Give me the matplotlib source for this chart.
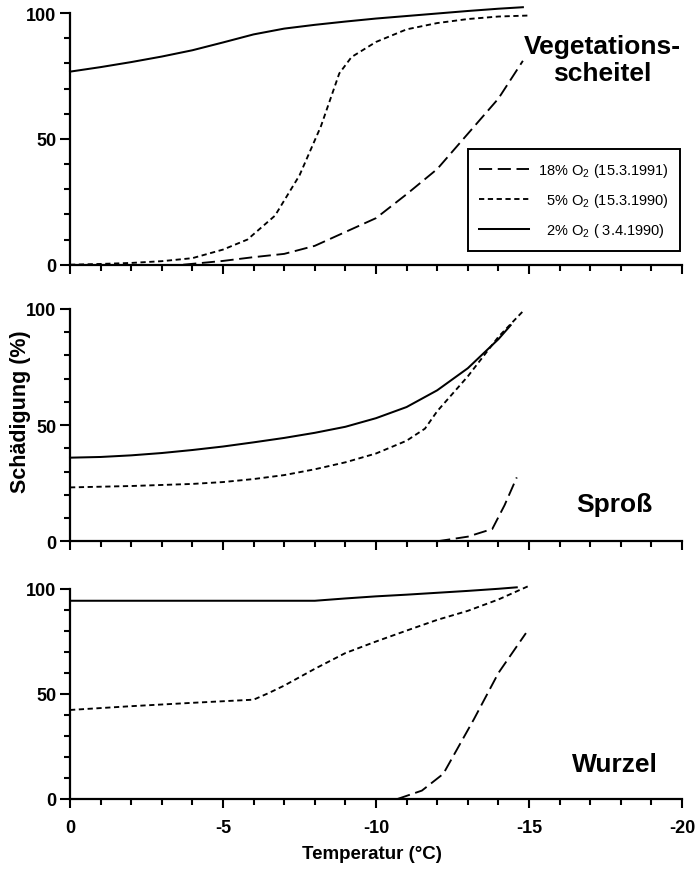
import numpy as np
import matplotlib
matplotlib.use("Agg")
import matplotlib.pyplot as plt
from matplotlib import rcParams

# ── global style ──────────────────────────────────────────
rcParams.update({
    "font.family": ["Liberation Sans", "DejaVu Sans"],
    "font.weight": "bold",
    "mathtext.default": "regular",
    "axes.unicode_minus": False,
    "axes.linewidth": 1.6,
    "axes.spines.top": False,
    "axes.spines.right": False,
    "xtick.direction": "out",
    "ytick.direction": "out",
    "xtick.major.size": 6.5,
    "xtick.minor.size": 4.3,
    "ytick.major.size": 7,
    "ytick.minor.size": 4,
    "xtick.major.width": 1.5,
    "xtick.minor.width": 1.5,
    "ytick.major.width": 1.5,
    "ytick.minor.width": 1.5,
})

LW = 1.35
LONG = (0, (7, 3))
SHORT = (0, (2.8, 1.9))

# ── data: temperature (°C) and damage (%) ─────────────────
# Vegetationsscheitel
veg_t_18 = [-3.7, -5, -6, -7, -8, -9, -10, -11, -12, -13, -14, -14.8]
veg_d_18 = [0, 1.5, 3, 4.3, 7.5, 13, 18.5, 28, 38, 52, 66, 81]
veg_t_5 = [0, -1, -2, -3, -4, -5, -5.8, -6.7, -7.5, -8.2, -8.8, -9.2,
           -10, -11, -12, -13, -14, -15]
veg_d_5 = [0, 0.3, 0.7, 1.4, 2.6, 6, 10, 19.5, 35.5, 55, 76, 82.5,
           88.5, 93.5, 96, 97.6, 98.6, 99]
veg_t_2 = [0, -1, -2, -3, -4, -5, -6, -7, -8, -9, -10, -11, -12, -13, -14, -14.8]
veg_d_2 = [76.7, 78.5, 80.5, 82.7, 85.2, 88.3, 91.5, 93.8, 95.3, 96.6,
           97.8, 98.8, 99.8, 100.8, 101.7, 102.3]

# Spross
spr_t_18 = [-12, -13, -13.8, -14.2, -14.6]
spr_d_18 = [0, 2, 5.3, 15.5, 27.5]
spr_t_5 = [0, -2, -4, -5, -6, -7, -8, -9, -10, -11, -11.6, -12, -13, -14, -14.8]
spr_d_5 = [23.2, 23.8, 24.7, 25.5, 26.8, 28.5, 31, 34, 37.8, 43.3, 48.5,
           56, 71, 88, 99]
spr_t_2 = [0, -1, -2, -3, -4, -5, -6, -7, -8, -9, -10, -11, -12, -13, -14, -14.4]
spr_d_2 = [36, 36.3, 37, 38, 39.3, 40.8, 42.6, 44.5, 46.7, 49.3, 53,
           57.8, 65, 74.5, 87, 93]

# Wurzel
wur_t_18 = [-10.7, -11.5, -12.2, -13.2, -14, -14.9]
wur_d_18 = [0, 4, 12, 38, 60, 79]
wur_t_5 = [0, -2, -4, -6, -6.5, -7, -8, -9, -10, -11, -12, -13, -14, -15]
wur_d_5 = [42.4, 44.2, 45.8, 47.3, 50.5, 54, 62, 69.5, 75, 80.2, 85.3,
           89.6, 95, 101.5]
wur_t_2 = [0, -8, -9, -10, -11, -12, -13, -14, -14.6]
wur_d_2 = [94.4, 94.4, 95.5, 96.5, 97.3, 98.2, 99.1, 100.1, 100.8]

legend_labels = ["18% O$_2$ (15.3.1991)",
                 "  5% O$_2$ (15.3.1990)",
                 "  2% O$_2$ ( 3.4.1990)"]
x_ticks = [0, -5, -10, -15, -20]
x_tick_labels = ["0", "-5", "-10", "-15", "-20"]
y_ticks = [0, 50, 100]
y_tick_labels = ["0", "50", "100"]

panels = [
    ("Vegetations-\nscheitel", veg_t_18, veg_d_18, veg_t_5, veg_d_5, veg_t_2, veg_d_2),
    ("Sproß", spr_t_18, spr_d_18, spr_t_5, spr_d_5, spr_t_2, spr_d_2),
    ("Wurzel", wur_t_18, wur_d_18, wur_t_5, wur_d_5, wur_t_2, wur_d_2),
]

W, H = 697, 870
# axes boxes in pixels: left, top (y of 100), bottom (y of 0)
boxes = [(70, 14, 265.7), (70, 310, 542.3), (70, 590, 800)]
label_pos = [(-17.4, 81.5), (-17.8, 16), (-17.8, 16.7)]

fig = plt.figure(figsize=(W / 100, H / 100), dpi=100)

for i, (name, t18, d18, t5, d5, t2, d2) in enumerate(panels):
    left, top, bot = boxes[i]
    ax = fig.add_axes([left / W, (H - bot) / H, 612 / W, (bot - top) / H])
    l18, = ax.plot(t18, d18, color="black", lw=LW, linestyle=LONG, clip_on=False)
    l5, = ax.plot(t5, d5, color="black", lw=LW, linestyle=SHORT, clip_on=False)
    l2, = ax.plot(t2, d2, color="black", lw=LW + 0.1, clip_on=False)

    ax.set_xlim(0, -20)
    ax.set_ylim(0, 100)
    ax.set_xticks(x_ticks)
    ax.set_xticks(np.arange(0, -21, -1), minor=True)
    ax.set_yticks(y_ticks)
    ax.set_yticks(np.arange(0, 101, 10), minor=True)
    ax.set_yticklabels(y_tick_labels, fontsize=13, fontweight="bold")
    ax.tick_params(axis="y", pad=3)
    if i == 2:
        ax.set_xticklabels(x_tick_labels, fontsize=13, fontweight="bold")
        ax.tick_params(axis="x", pad=8)
    else:
        ax.set_xticklabels([])

    tx, ty = label_pos[i]
    ax.text(tx, ty, name, ha="center", va="center", fontsize=19,
            fontweight="bold", linespacing=1.15)

    if i == 0:
        leg = ax.legend([l18, l5, l2], legend_labels, loc="lower right",
                        bbox_to_anchor=(0.997, 0.054), borderaxespad=0,
                        fancybox=False, edgecolor="black", framealpha=1,
                        prop={"size": 10.5, "weight": "normal"},
                        handlelength=3.4, handletextpad=0.6,
                        labelspacing=0.85, borderpad=0.8)
        leg.get_frame().set_linewidth(1.4)

fig.text(21 / W, 1 - 412 / H, "Schädigung (%)", rotation=90, ha="center",
         va="center", fontsize=15.5, fontweight="bold")
fig.text(372 / W, 1 - 855 / H, "Temperatur (°C)", ha="center", va="center",
         fontsize=13.5, fontweight="bold")

fig.savefig("out.png", dpi=100)
